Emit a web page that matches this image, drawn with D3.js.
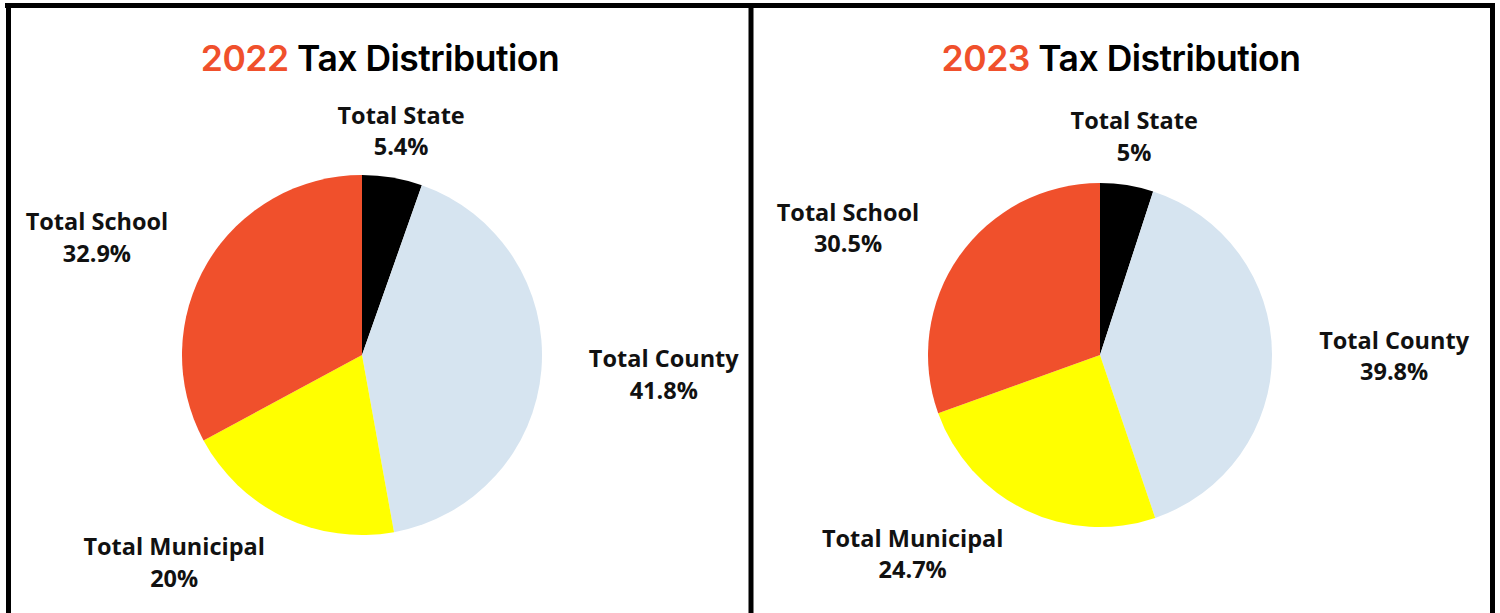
<!DOCTYPE html>
<html>
<head>
<meta charset="utf-8">
<script src="https://cdn.jsdelivr.net/npm/d3@7"></script>
<style>
  html, body { margin: 0; padding: 0; background: #fff; }
  svg { display: block; }
</style>
</head>
<body>
<svg id="chart" width="1500" height="613"></svg>
<script>
// ---- Data ----
const categories = ["Total State", "Total County", "Total Municipal", "Total School"];
const years = ["2022", "2023"];
const values2022 = [5.4, 41.8, 20, 32.9];
const values2023 = [5, 39.8, 24.7, 30.5];
const labels2022 = ["5.4%", "41.8%", "20%", "32.9%"];
const labels2023 = ["5%", "39.8%", "24.7%", "30.5%"];

// ---- Styles / layout ----
const colors = ["#000000", "#D6E4F0", "#FFFF00", "#F0502C"];
const titleColor = "#F0502C";
const panels = [
  { cx: 362, cy: 355, r: 180, titleX: 380, values: values2022, labels: labels2022, year: years[0],
    // label placement: [angle shift in degrees, radius factor]
    place: [[0.2, 1.262], [-0.8, 1.68], [16.4, 1.556], [-7, 1.61]] },
  { cx: 1100, cy: 355, r: 172, titleX: 1121, values: values2023, labels: labels2023, year: years[1],
    place: [[-0.1, 1.284], [0.6, 1.71], [17.5, 1.59], [-8.4, 1.64]] }
];

const svg = d3.select("#chart");

// Borders
const border = svg.append("g").attr("stroke", "#000").attr("stroke-width", 5).attr("fill", "none");
border.append("line").attr("x1", 5).attr("x2", 1495).attr("y1", 5.5).attr("y2", 5.5);
border.append("line").attr("x1", 8.5).attr("x2", 8.5).attr("y1", 3).attr("y2", 613);
border.append("line").attr("x1", 751).attr("x2", 751).attr("y1", 3).attr("y2", 613);
border.append("line").attr("x1", 1492.5).attr("x2", 1492.5).attr("y1", 3).attr("y2", 613);

const pie = d3.pie().sort(null).value(d => d);

panels.forEach(p => {
  const g = svg.append("g");

  // Title
  const title = g.append("text")
    .attr("x", p.titleX).attr("y", 71)
    .attr("text-anchor", "middle")
    .style("font-family", "Inter, 'Open Sans', sans-serif")
    .style("font-weight", 600)
    .style("font-size", "35.5px")
    .style("letter-spacing", "-0.5px")
    .attr("fill", "#000");
  title.append("tspan").attr("fill", titleColor).text(p.year);
  title.append("tspan").text(" Tax Distribution");

  const arcs = pie(p.values);
  const arc = d3.arc().innerRadius(0).outerRadius(p.r);

  const pg = g.append("g").attr("transform", `translate(${p.cx},${p.cy})`);
  pg.selectAll("path").data(arcs).join("path")
    .attr("d", arc)
    .attr("fill", (d, i) => colors[i]);

  // Labels
  const lg = pg.append("g")
    .style("font-family", "'Open Sans', 'Noto Sans', sans-serif")
    .style("font-weight", 700)
    .style("font-size", "23.5px")
    .attr("fill", "#111")
    .attr("text-anchor", "middle");

  arcs.forEach((d, i) => {
    const mid = (d.startAngle + d.endAngle) / 2 + p.place[i][0] * Math.PI / 180;
    const rr = p.r * p.place[i][1];
    const x = Math.sin(mid) * rr;
    const y = -Math.cos(mid) * rr;
    const t = lg.append("text").attr("x", x).attr("y", y);
    t.append("tspan").attr("x", x).attr("dy", "-0.32em").text(categories[i]);
    t.append("tspan").attr("x", x).attr("dy", "1.33em").text(p.labels[i]);
  });
});
</script>
</body>
</html>
